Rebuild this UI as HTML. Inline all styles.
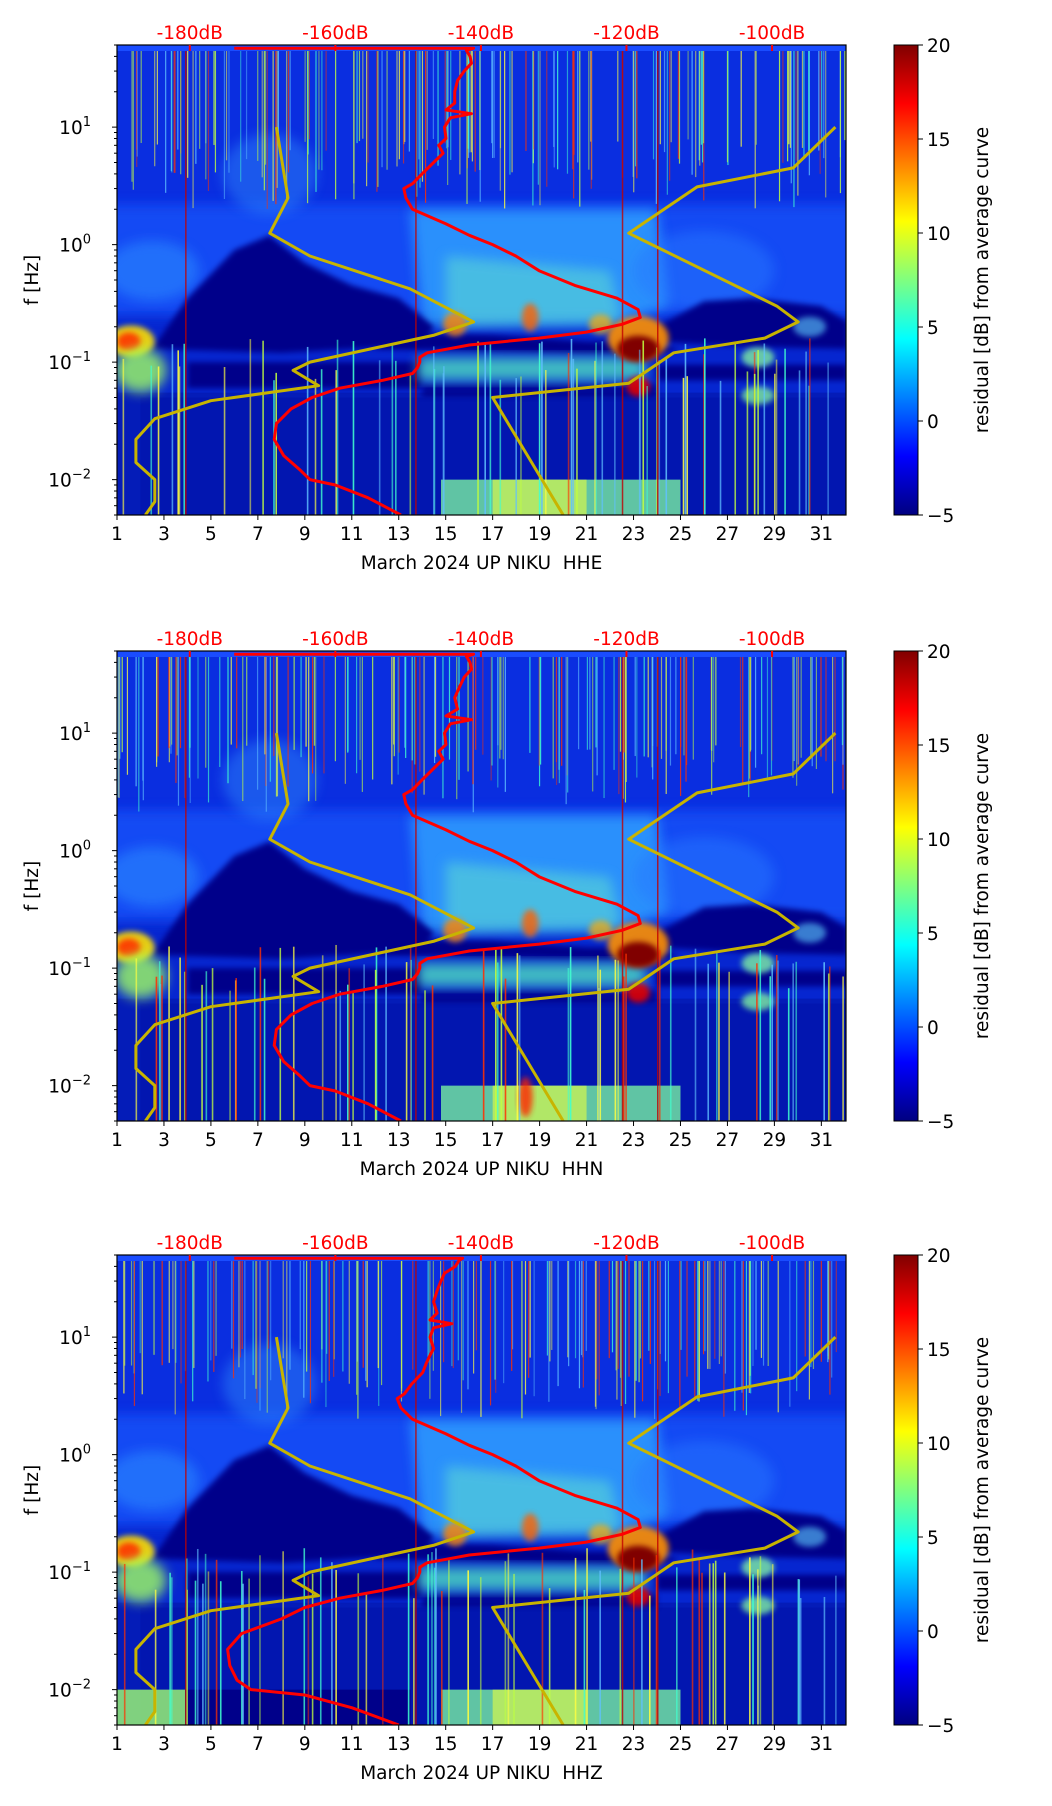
<!DOCTYPE html>
<html><head><meta charset="utf-8"><style>
body{margin:0;background:#fff;}
svg{display:block;font-family:"DejaVu Sans","Liberation Sans",sans-serif;}
text{white-space:pre;}
</style></head><body>
<svg id="fig" width="1052" height="1806" viewBox="0 0 1052 1806" xmlns="http://www.w3.org/2000/svg">
<defs>
<linearGradient id="jet" x1="0" y1="1" x2="0" y2="0">
<stop offset="0" stop-color="#000080"/><stop offset="0.125" stop-color="#0000ff"/>
<stop offset="0.375" stop-color="#00ffff"/><stop offset="0.625" stop-color="#ffff00"/>
<stop offset="0.875" stop-color="#ff0000"/><stop offset="1" stop-color="#800000"/>
</linearGradient>
<filter id="blur6" x="-30%" y="-30%" width="160%" height="160%"><feGaussianBlur stdDeviation="6"/></filter>
<filter id="blur3" x="-30%" y="-30%" width="160%" height="160%"><feGaussianBlur stdDeviation="3"/></filter>
</defs>
</svg>
<script>
// ---- data (dB values of curves; frequencies in Hz) ----
const panelTitles = ["March 2024 UP NIKU  HHE","March 2024 UP NIKU  HHN","March 2024 UP NIKU  HHZ"];
const dbTicks = [-180,-160,-140,-120,-100];
const dayTicks = [1,3,5,7,9,11,13,15,17,19,21,23,25,27,29,31];
const freqTickExp = [-2,-1,0,1];
const cbTicks = [-5,0,5,10,15,20];
const avgFreq = [47,47,45,40,35,30,25,20,16,14,13,12,10,8,7,6,5,4,3.3,3,2.5,2.0,1.5,1.2,1.0,0.8,0.6,0.45,0.35,0.28,0.24,0.21,0.18,0.16,0.14,0.12,0.11,0.1,0.09,0.08,0.07,0.06,0.05,0.04,0.03,0.022,0.016,0.012,0.01,0.009,0.007,0.005];
const avgDbHHE = [-173.9,-141,-142,-141.5,-141.3,-142.3,-143.2,-143.6,-143.6,-144.8,-141.3,-144.2,-145,-144.8,-145.8,-145.2,-146.5,-148.1,-149.4,-150.6,-150.3,-149.4,-144.8,-141.6,-138.4,-135.2,-132,-127.1,-121.3,-118.4,-118.1,-120.6,-125.5,-132,-141.6,-147.4,-148.4,-148.4,-148.7,-149.4,-153.5,-159.4,-163.2,-166.1,-168.1,-168.4,-167.1,-164.8,-163.5,-160,-155.5,-151];
const avgDbHHN = [-173.9,-141,-142,-141.5,-141.3,-142.3,-142.9,-143.6,-143.2,-144.8,-141.3,-144.2,-145,-144.8,-145.8,-145.2,-146.5,-148.1,-149.4,-150.6,-150.3,-149.4,-144.8,-141.6,-138.4,-135.2,-132,-127.1,-121.3,-118.4,-118.1,-120.6,-125.5,-132,-141.6,-147.4,-148.4,-148.4,-148.7,-149.4,-153.5,-159.4,-163.2,-166.1,-168.1,-168.4,-167.1,-164.8,-163.5,-160,-155.5,-151];
const avgDbHHZ = [-173.9,-142.5,-143,-143.5,-145,-145.5,-146,-146.5,-146,-147,-144,-146.5,-147,-146.5,-147,-147.5,-148,-149.5,-150.5,-151.5,-151,-149.4,-144.8,-141.6,-138.4,-135.2,-132,-127.1,-121.3,-118.4,-118.1,-120.6,-125.5,-132,-141.6,-147.4,-148.4,-148.4,-148.7,-149.4,-153.5,-159.4,-164.2,-167.4,-172.9,-174.8,-174.5,-173.5,-171.6,-164.2,-157.7,-151.3];
const nlnmFreq = [10,2.5,1.25,0.8,0.42,0.22,0.17,0.1,0.085,0.063,0.047,0.033,0.022,0.014,0.01,0.0065,0.005];
const nlnmDb = [-168.1,-166.5,-169.0,-163.5,-149.7,-141.0,-146.4,-163.5,-165.8,-162.3,-177.1,-184.8,-187.4,-187.4,-184.8,-184.8,-186.1];
const nhnmFreq = [10,4.5,3.1,1.25,0.3,0.22,0.16,0.12,0.066,0.05,0.005];
const nhnmDb = [-91.3,-97.1,-110.3,-119.7,-99.35,-96.4,-101,-113.5,-119.7,-138.4,-128.7];

// ---- layout / axes ----
const NS="http://www.w3.org/2000/svg";
const svg=document.getElementById('fig');
const L=117,R=846,H=470,tops=[45,651,1255];
const D0=1,D1=32.05,F0=0.005,F1=50;
const FS=18.5;
const xDay=d=>L+(d-D0)/(D1-D0)*(R-L);
const dbToDay=db=>4.1+(db+180)/80*24.8;
const xDb=db=>xDay(dbToDay(db));
function mk(tag,attrs,parent){const e=document.createElementNS(NS,tag);for(const k in attrs)e.setAttribute(k,attrs[k]);parent.appendChild(e);return e;}
let seed=12345;function rnd(){seed=(seed*1103515245+12345)%2147483648;return seed/2147483648;}

tops.forEach((T,pi)=>{
  const yF=f=>T+H-(Math.log10(f)-Math.log10(F0))/(Math.log10(F1)-Math.log10(F0))*H;
  const g=mk('g',{},svg);
  
  
  const cid='clip'+pi;
  const cp=mk('clipPath',{id:cid},g);mk('rect',{x:L,y:T,width:R-L,height:H},cp);
  const bg=mk('g',{'clip-path':'url(#'+cid+')'},g);
  
  
  const rect=(d0,d1,f0,f1,fill,op,filt)=>{const r=mk('rect',{x:xDay(d0),y:yF(f1),width:xDay(d1)-xDay(d0),height:yF(f0)-yF(f1),fill:fill,opacity:op||1},bg);if(filt)r.setAttribute('filter','url(#'+filt+')');return r;};
  const ell=(d,f,rd,rf,fill,op,filt)=>{const cy=yF(f);const e=mk('ellipse',{cx:xDay(d),cy:cy,rx:rd*23.5,ry:rf,fill:fill,opacity:op||1},bg);if(filt)e.setAttribute('filter','url(#'+filt+')');return e;};
  const poly=(pts,fill,op,filt)=>{const p=mk('polygon',{points:pts.map(q=>xDay(q[0])+','+yF(q[1])).join(' '),fill:fill,opacity:op||1},bg);if(filt)p.setAttribute('filter','url(#'+filt+')');return p;};
  // base layers
  rect(0,33,0.001,100,'#0626d0');
  rect(0,33,2,100,'#0a2ee0');
  rect(0,33,0.25,2.2,'#1650f8',0.9,'blur6');
  rect(0,33,0.004,0.055,'#041cb8');
  // light cyan in mid zone
  poly([[13.5,2],[24,2],[24.5,0.3],[22,0.2],[14,0.2]],'#30a8ff',0.75,'blur6');
  poly([[15,0.8],[22,0.6],[22.5,0.22],[15,0.2]],'#60e0d0',0.55,'blur6');
  ell(2.5,0.6,2,30,'#2c88ff',0.6,'blur6');
  ell(26,0.6,3,40,'#2878ff',0.5,'blur6');
  ell(7.5,4,2,40,'#3498ff',0.4,'blur6');
  // dark navy regions
  poly([[2.5,0.13],[4,0.35],[6,0.9],[7.5,1.2],[9,0.7],[11,0.45],[13,0.35],[14.5,0.2],[14,0.14],[8,0.12]],'#00008a',1,'blur3');
  poly([[13,0.175],[17,0.17],[21,0.15],[23,0.15],[25,0.13],[24,0.115],[16,0.125],[12,0.13]],'#00008a',1,'blur3');
  poly([[24,0.2],[26,0.33],[28,0.35],[31,0.3],[32.1,0.22],[32.1,0.13],[28,0.135],[24,0.15]],'#00008a',1,'blur3');
  rect(4,14,0.06,0.1,'#00008a',1,'blur3');
  rect(24,32.1,0.07,0.095,'#00008a',1,'blur3');
  rect(14,24,0.05,0.065,'#00008a',0.8,'blur3');
  rect(2,32.1,0.004,0.05,'#0010a8',0.5);
  // warm / cyan blobs
  rect(13.8,23.5,0.07,0.11,'#50e0c0',0.8,'blur6');
  ell(1.6,0.15,1.0,16,'#ffe000',0.9,'blur3');
  ell(1.5,0.15,0.5,9,'#ff3000',0.9,'blur3');
  ell(2,0.085,1.1,22,'#a0ff60',0.8,'blur6');
  ell(15.4,0.21,0.5,12,'#ff8000',0.8,'blur3');
  ell(18.6,0.24,0.35,14,'#ff6000',0.8,'blur3');
  ell(21.6,0.21,0.5,10,'#ffb000',0.7,'blur3');
  ell(23.2,0.16,1.3,22,'#ff9000',0.9,'blur3');
  ell(23.2,0.13,0.9,13,'#800000',1,'blur3');
  ell(23.2,0.062,0.5,10,'#e00000',0.9,'blur3');
  ell(28.3,0.11,0.7,10,'#80f0a0',0.8,'blur3');
  ell(28.3,0.052,0.7,9,'#80f0a0',0.8,'blur3');
  ell(30.5,0.2,0.7,10,'#60d0ff',0.6,'blur3');
  if(pi===2){rect(3.9,13.5,0.004,0.01,'#00008a',1);rect(0,3.9,0.004,0.01,'#a0ff70',0.8);}
  rect(14.8,25,0.004,0.01,'#80ffa0',0.75);
  rect(17,21,0.004,0.01,'#e8ff40',0.6);
  if(pi===1){ell(18.4,0.008,0.3,20,'#ff2000',0.8,'blur3');}
  // vertical streaks (texture)
  seed=777+pi*31;
  const cols=['#40ffd0','#ffff40','#ff3000','#60c0ff','#c0ff40'];
  for(let i=0;i<170;i++){const d=1+rnd()*31;const c=cols[Math.floor(rnd()*5)];
    const ft=F1, fb=2+rnd()*6;
    mk('rect',{x:xDay(d),y:yF(ft),width:1.2,height:yF(fb)-yF(ft),fill:c,opacity:0.45+rnd()*0.4},bg);}
  for(let i=0;i<70;i++){const d=1+rnd()*31;const c=cols[Math.floor(rnd()*5)];
    const ft=0.06+rnd()*0.1;
    mk('rect',{x:xDay(d),y:yF(ft),width:1.6,height:yF(F0)-yF(ft),fill:c,opacity:0.5+rnd()*0.4},bg);}
  [3.9,13.7,22.5,24].forEach(d=>mk('rect',{x:xDay(d),y:yF(F1),width:1.5,height:H,fill:'#c00000',opacity:0.8},bg));
  mk('rect',{x:L,y:T,width:R-L,height:6,fill:'#1a4cff'},bg);
  // curves
  const path=(fr,db,color,w,name)=>{const p=mk('path',{d:fr.map((f,i)=>(i?'L':'M')+xDb(db[i]).toFixed(1)+','+yF(f).toFixed(1)).join(''),fill:'none',stroke:color,'stroke-width':w,'stroke-linejoin':'round'},bg);
    
    };
  path(nlnmFreq,nlnmDb,'#c8b400',3,'low-noise-model-line');
  path(nhnmFreq,nhnmDb,'#c8b400',3,'high-noise-model-line');
  path(avgFreq,[avgDbHHE,avgDbHHN,avgDbHHZ][pi],'#ff0000',3,'average-psd-line');
  // frame
  const fr=mk('rect',{x:L,y:T,width:R-L,height:H,fill:'none',stroke:'#000','stroke-width':1.2},g);
  
  
  // x ticks
  dayTicks.forEach(d=>{const x=xDay(d);mk('line',{x1:x,y1:T+H,x2:x,y2:T+H+5,stroke:'#000'},g);
    const t=mk('text',{x:x,y:T+H+25,'font-size':FS,'text-anchor':'middle'},g);t.textContent=d;
    
    });
  const xt=mk('text',{x:(L+R)/2,y:T+H+54,'font-size':FS,'text-anchor':'middle'},g);xt.textContent=panelTitles[pi];
  
  
  // top dB ticks
  dbTicks.forEach(db=>{const x=xDb(db);mk('line',{x1:x,y1:T,x2:x,y2:T+6,stroke:'#f00','stroke-width':2},g);
    const t=mk('text',{x:x,y:T-6,'font-size':FS,'text-anchor':'middle',fill:'#f00'},g);t.textContent=db+'dB';
    
    });
  // y ticks
  for(let e=-3;e<=1;e++){for(let m=1;m<10;m++){const f=m*Math.pow(10,e);if(f<F0||f>F1)continue;const y=yF(f);
    mk('line',{x1:L-(m===1?5:3),y1:y,x2:L,y2:y,stroke:'#000'},g);}}
  freqTickExp.forEach(e=>{const y=yF(Math.pow(10,e));const t=mk('text',{x:L-26,y:y+7,'font-size':FS,'text-anchor':'end'},g);
    t.textContent='10';const s=mk('tspan',{dy:-8,'font-size':13},t);s.textContent=(e<0?'\u2212':'')+Math.abs(e);
    
    });
  const yt=mk('text',{x:0,y:0,'font-size':FS,'text-anchor':'middle',transform:'translate(38,'+(T+H/2)+') rotate(-90)'},g);yt.textContent='f [Hz]';
  
  
  // colorbar
  const cb=mk('rect',{x:894,y:T,width:24,height:H,fill:'url(#jet)',stroke:'#000','stroke-width':1},g);
  
  
  cbTicks.forEach(v=>{const y=T+H-(v+5)/25*H;mk('line',{x1:918,y1:y,x2:923,y2:y,stroke:'#000'},g);
    const t=mk('text',{x:927,y:y+7,'font-size':FS},g);t.textContent=(v<0?'\u2212':'')+Math.abs(v);
    
    });
  const ct=mk('text',{x:0,y:0,'font-size':FS,'text-anchor':'middle',transform:'translate(988,'+(T+H/2)+') rotate(-90)'},g);ct.textContent='residual [dB] from average curve';
  
  
});
</script>
</body></html>
